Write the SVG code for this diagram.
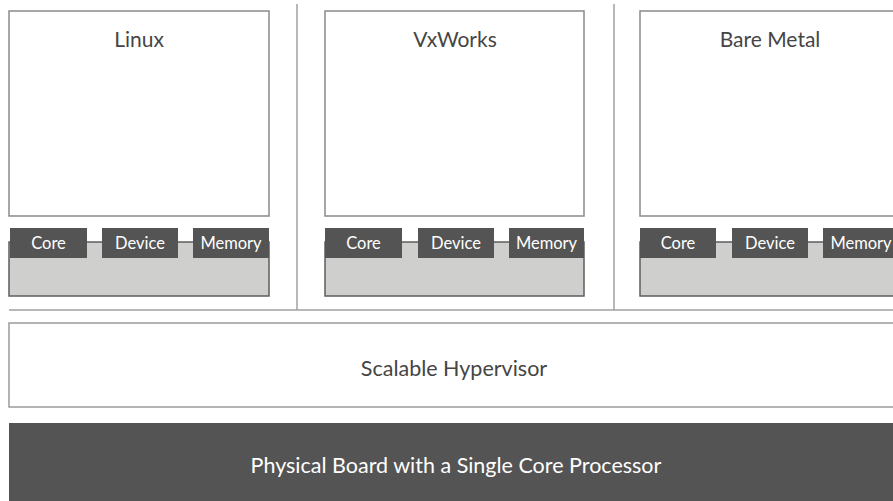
<svg xmlns="http://www.w3.org/2000/svg" width="893" height="501" viewBox="0 0 893 501">
<style>
.os{fill:#fff;stroke:#8a8a8a;stroke-width:1.5}
.res{fill:#cfd0ce;stroke:#5e5e5e;stroke-width:1.5}
.tab{fill:#545454}
.ttl{font-family:Lato,"Open Sans",sans-serif;font-size:21px;fill:#454545;text-anchor:middle}
.tl{font-family:Lato,"Open Sans",sans-serif;font-size:16.5px;fill:#fff;text-anchor:middle}
.big{font-family:Lato,"Open Sans",sans-serif;font-size:21.5px;text-anchor:middle}
.ln{stroke:#a0a0a0;stroke-width:1.5;fill:none}
</style>
<rect width="893" height="501" fill="#fff"/>
<g id="connectors">
<line class="ln" x1="297" y1="4" x2="297" y2="310"/>
<line class="ln" x1="614" y1="4" x2="614" y2="310"/>
<line class="ln" x1="9" y1="310" x2="893" y2="310"/>
</g>
<g id="linux">
<rect class="os" x="9" y="11" width="260" height="205"/>
<text class="ttl" x="139" y="47">Linux</text>
<rect class="res" x="9" y="242" width="260" height="54"/>
<rect class="tab" x="10" y="228" width="77" height="30"/>
<rect class="tab" x="102" y="228" width="76" height="30"/>
<rect class="tab" x="193" y="228" width="76" height="30"/>
<text class="tl" x="48.5" y="249">Core</text>
<text class="tl" x="140" y="249">Device</text>
<text class="tl" x="231" y="249">Memory</text>
</g>
<g id="vxworks">
<rect class="os" x="325" y="11" width="259" height="205"/>
<text class="ttl" x="455" y="47">VxWorks</text>
<rect class="res" x="325" y="242" width="259" height="54"/>
<rect class="tab" x="325" y="228" width="77" height="30"/>
<rect class="tab" x="418" y="228" width="76" height="30"/>
<rect class="tab" x="509" y="228" width="75" height="30"/>
<text class="tl" x="363.5" y="249">Core</text>
<text class="tl" x="456" y="249">Device</text>
<text class="tl" x="546.5" y="249">Memory</text>
</g>
<g id="baremetal">
<rect class="os" x="640" y="11" width="262" height="205"/>
<text class="ttl" x="770" y="47">Bare Metal</text>
<rect class="res" x="640" y="242" width="262" height="54"/>
<rect class="tab" x="640" y="228" width="76" height="30"/>
<rect class="tab" x="732" y="228" width="76" height="30"/>
<rect class="tab" x="823" y="228" width="76" height="30"/>
<text class="tl" x="678" y="249">Core</text>
<text class="tl" x="770" y="249">Device</text>
<text class="tl" x="861" y="249">Memory</text>
</g>
<g id="hypervisor">
<rect x="9" y="323" width="900" height="84" fill="#fff" stroke="#9a9a9a" stroke-width="1.5"/>
<text class="big" x="454" y="376" fill="#454545">Scalable Hypervisor</text>
</g>
<g id="board">
<rect x="9" y="423" width="900" height="90" fill="#545454"/>
<text class="big" x="456" y="473" fill="#fff">Physical Board with a Single Core Processor</text>
</g>
</svg>
